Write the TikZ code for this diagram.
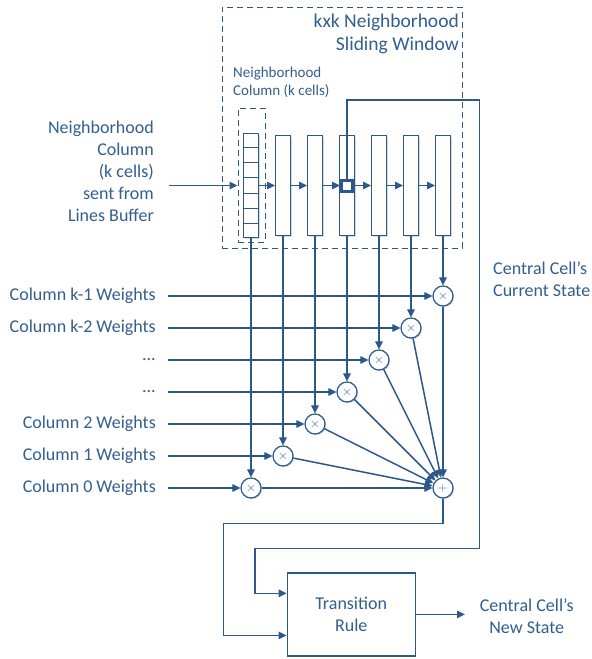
\documentclass[tikz,border=0pt]{standalone}
\usepackage{fontspec}
\setmainfont{Carlito}
\usetikzlibrary{arrows.meta,shadows,calc}
\definecolor{dblue}{RGB}{45,88,138}
\definecolor{tblue}{RGB}{50,94,144}
\newcommand{\mydots}{...}
\begin{document}
\begin{tikzpicture}[x=1pt,y=-1pt,
  line/.style={draw=dblue, line width=1.5pt},
  arr/.style={line, -{Triangle[length=8pt,width=7.5pt]}},
  shad/.style={drop shadow={shadow xshift=1.2pt,shadow yshift=-1.2pt,opacity=0.3}},
  colbox/.style={draw=dblue, line width=1pt, fill=white, minimum width=15pt, minimum height=100pt, inner sep=0pt, shad},
  dbox/.style={draw=dblue, line width=1pt, dash pattern=on 6pt off 4pt, inner sep=0pt},
  mul/.style={circle, draw=dblue, line width=1.2pt, fill=white, minimum size=20pt, inner sep=0pt, shad, text=dblue, font=\fontsize{13}{13}\selectfont},
  txt/.style={text=tblue, font=\fontsize{18}{22}\selectfont, inner sep=0pt},
  smalltxt/.style={text=tblue, font=\fontsize{15}{18}\selectfont, inner sep=0pt}
]
\useasboundingbox (0,0) rectangle (592,659);
% windows
\node[dbox, minimum width=240pt, minimum height=241pt] (win) at (342,127.5) {};
\node[txt, font=\fontsize{19.5}{23}\selectfont, anchor=east, align=right] (title) at (459,33.5) {kxk Neighborhood\\Sliding Window};
\node[smalltxt, anchor=west, align=left] (nclab) at (233,82) {Neighborhood\\Column (k cells)};
\node[dbox, minimum width=27pt, minimum height=134pt] (cbox) at (251.5,175) {};
% cell column
\node[colbox, line width=1.4pt, minimum height=104pt] (c0) at (251,185.5) {};
\foreach \k in {1,...,6}
  \draw[draw=dblue, line width=1pt] ($(c0.north west)!\k/7!(c0.south west)$) -- ($(c0.north east)!\k/7!(c0.south east)$);
% columns
\foreach \i in {1,...,6}
  \node[colbox] (col\i) at (251+32*\i,185.5) {};
\node[draw=dblue, line width=3pt, fill=white, minimum size=11pt, inner sep=0pt] (cc) at (347,185.5) {};
% input
\node[txt, anchor=east, align=right] (inlab) at (154,171) {Neighborhood\\Column\\(k cells)\\sent from\\Lines Buffer};
\coordinate (inp) at (169,185.5);
\draw[arr] (inp) -- (inp -| cbox.west);
\draw[arr] (c0.east) -- (col1.west);
\draw[arr] (col1.east) -- (col2.west);
\draw[arr] (col2.east) -- (cc.west);
\draw[arr] (cc.east) -- (col4.west);
\draw[arr] (col4.east) -- (col5.west);
\draw[arr] (col5.east) -- (col6.west);
% multipliers
\foreach \i in {0,...,6}
  \node[mul] (m\i) at (251+32*\i,488-32*\i) {$\times$};
\node[mul] (plus) at (443,488) {$+$};
% weights
\foreach \i/\t in {6/Column k-1 Weights,5/Column k-2 Weights,4/\mydots,3/\mydots,2/Column 2 Weights,1/Column 1 Weights,0/Column 0 Weights}{
  \node[txt, anchor=east] (wl\i) at (156,488-32*\i) {\t};
  \coordinate (w\i) at (168,488-32*\i);
  \draw[arr] (w\i) -- (m\i);
}
% column outputs
\draw[arr] (c0.south) -- (m0);
\foreach \i in {1,...,6}
  \draw[arr] (col\i.south) -- (m\i);
% sums
\foreach \i in {0,...,6}
  \draw[arr] (m\i) -- (plus);
% transition rule
\node[txt, draw=dblue, line width=1.2pt, fill=white, minimum width=128pt, minimum height=83pt, align=center, shad] (tr) at (351.2,614.4) {Transition\\Rule};
\coordinate (tin1) at ($(tr.south west)!0.75!(tr.north west)$);
\coordinate (tin2) at ($(tr.south west)!0.25!(tr.north west)$);
\coordinate (p1) at (223.3,523.3);
\draw[arr] (plus.south) |- (p1) |- (tin2);
\coordinate (r1) at (479.3,100);
\coordinate (r2) at (479.3,548.3);
\coordinate (r3) at (255,548.3);
\draw[arr] (cc.north) |- (r1) -- (r2) -- (r3) |- (tin1);
\node[txt, anchor=west, align=left] (cslab) at (493,279) {Central Cell’s\\Current State};
\coordinate (outp) at (465,614.4);
\draw[arr] (tr.east) -- (outp);
\node[txt, align=center] (nslab) at (526.7,616) {Central Cell’s\\New State};
\end{tikzpicture}
\end{document}
